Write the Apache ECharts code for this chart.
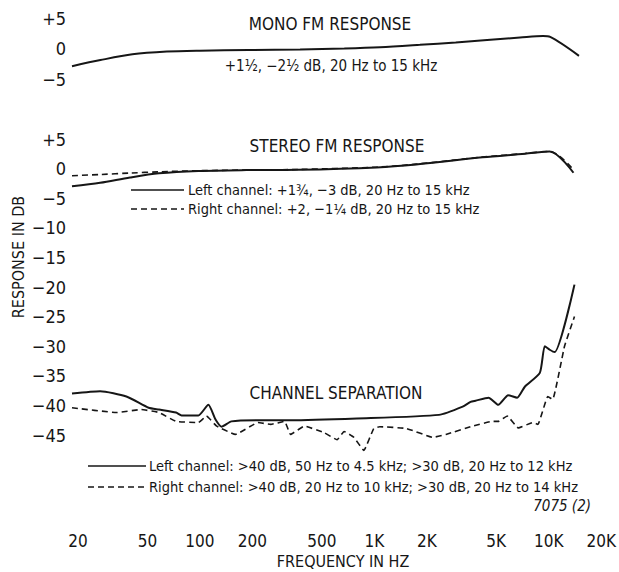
<!DOCTYPE html>
<html>
<head>
<meta charset="utf-8">
<style>
  html, body { margin: 0; padding: 0; background: #fff; }
  #chart { width: 619px; height: 572px; }
</style>
<script src="https://cdn.jsdelivr.net/npm/echarts@6/dist/echarts.min.js"></script>
</head>
<body>
<div id="chart"></div>
<script>
// Frequency axis ticks (Hz) and their printed labels
const FREQ_TICKS = [20, 50, 100, 200, 500, 1000, 2000, 5000, 10000, 20000];
const FREQ_TICK_LABELS = ['20', '50', '100', '200', '500', '1K', '2K', '5K', '10K', '20K'];

// Mono FM response
const monoFreq = [20, 29, 44, 69, 106, 200, 393, 700, 1117, 1880, 3000, 4520, 6950, 9380, 10300, 15000];
const monoDb   = [-2.9, -1.9, -0.95, -0.5, -0.35, -0.25, -0.15, 0.0, 0.2, 0.6, 1.0, 1.4, 1.8, 2.05, 1.9, -1.2];

// Stereo FM response
const stereoFreq    = [20, 29, 43, 63, 106, 200, 393, 1117, 1880, 4520, 7910, 10960, 15000];
const stereoLeftDb  = [-3.0, -2.4, -1.5, -0.8, -0.4, -0.25, -0.2, 0.2, 0.7, 1.9, 2.5, 2.9, -0.7];
const stereoRightDb = [-1.2, -1.0, -0.75, -0.55, -0.35, -0.25, -0.15, 0.25, 0.75, 1.95, 2.55, 2.9, -0.2];

// Channel separation, left channel
const sepLeftFreq = [20, 29, 41, 55, 63, 79, 85, 106, 121, 133, 144, 164, 233, 358, 860, 2540, 3475, 3855, 4120, 4890, 5560, 6340, 7130, 7910, 9620, 10270, 10960, 11700, 15200];
const sepLeftDb   = [-38.0, -37.6, -38.5, -40.4, -40.7, -41.2, -41.7, -41.7, -39.9, -42.4, -43.6, -42.7, -42.5, -42.5, -42.2, -41.6, -40.2, -39.4, -39.2, -38.7, -39.9, -38.3, -38.7, -36.8, -34.5, -30.0, -30.6, -31.0, -19.6];

// Channel separation, right channel
const sepRightFreq = [20, 36, 50, 63, 79, 106, 118, 135, 173, 233, 276, 331, 358, 430, 558, 662, 726, 826, 942, 1074, 1162, 1652, 2350, 2786, 3960, 5140, 5560, 6260, 7230, 8790, 9380, 10690, 11400, 13330, 15200];
const sepRightDb   = [-40.4, -41.2, -40.7, -41.2, -42.7, -42.9, -41.8, -43.5, -44.9, -42.9, -43.2, -42.7, -44.9, -43.5, -44.6, -45.8, -44.4, -45.4, -47.6, -43.9, -43.6, -43.9, -45.4, -44.9, -43.5, -42.7, -42.7, -41.8, -43.8, -42.9, -43.2, -38.5, -39.0, -30.0, -25.0];

const FONT = '"Liberation Sans Narrow", "DejaVu Sans Condensed", "Roboto Condensed", Roboto, sans-serif';
const INK = '#161616';

const toPoints = (freqs, dbs) => freqs.map((f, i) => [Math.log10(f), dbs[i]]);
const dbLabel = (v) => (v > 0 ? '+' + v : v < 0 ? '\u2212' + Math.abs(v) : '0');
const freqLabel = (v) => {
  const i = FREQ_TICKS.findIndex((t) => Math.abs(Math.log10(t) - v) < 1e-6);
  return i >= 0 ? FREQ_TICK_LABELS[i] : '';
};

const xBase = {
  type: 'value',
  min: Math.log10(FREQ_TICKS[0]),
  max: Math.log10(FREQ_TICKS[FREQ_TICKS.length - 1]),
  axisLine: { show: false },
  axisTick: { show: false },
  splitLine: { show: false }
};

const yLabelStyle = { color: INK, fontFamily: FONT, fontSize: 18, margin: 6 };

const chart = echarts.init(document.getElementById('chart'), null, { renderer: 'svg' });

const solid = { color: INK, width: 2, type: 'solid' };
const dashed = { color: INK, width: 1.6, type: [6, 4] };

// Plain text annotation helper
const label = (x, y, text, size, extra) => ({
  type: 'text', x, y,
  style: Object.assign({
    text, fill: INK, font: size + 'px ' + FONT, lineHeight: size,
    verticalAlign: 'middle'
  }, extra || {})
});

chart.setOption({
  animation: false,
  backgroundColor: '#fff',
  grid: [
    { left: 72, right: 18, top: 18, height: 61 },
    { left: 72, right: 18, top: 139, height: 296 }
  ],
  xAxis: [
    Object.assign({ gridIndex: 0, axisLabel: { show: false } }, xBase),
    Object.assign({
      gridIndex: 1,
      axisLabel: {
        customValues: FREQ_TICKS.map(Math.log10),
        formatter: freqLabel,
        color: INK, fontFamily: FONT, fontSize: 17, lineHeight: 17,
        margin: 97,
        padding: [0, 0, 0, 12]
      }
    }, xBase)
  ],
  yAxis: [
    {
      gridIndex: 0, type: 'value', min: -5, max: 5, interval: 5,
      axisLine: { show: false }, axisTick: { show: false }, splitLine: { show: false },
      axisLabel: Object.assign({ formatter: dbLabel }, yLabelStyle)
    },
    {
      gridIndex: 1, type: 'value', min: -45, max: 5, interval: 5,
      axisLine: { show: false }, axisTick: { show: false }, splitLine: { show: false },
      axisLabel: Object.assign({ formatter: dbLabel }, yLabelStyle)
    }
  ],
  series: [
    {
      name: 'Mono', type: 'line', xAxisIndex: 0, yAxisIndex: 0,
      data: toPoints(monoFreq, monoDb), showSymbol: false, smooth: 0.3,
      lineStyle: solid, clip: false
    },
    {
      name: 'Stereo left', type: 'line', xAxisIndex: 1, yAxisIndex: 1,
      data: toPoints(stereoFreq, stereoLeftDb), showSymbol: false, smooth: 0.3,
      lineStyle: solid, clip: false
    },
    {
      name: 'Stereo right', type: 'line', xAxisIndex: 1, yAxisIndex: 1,
      data: toPoints(stereoFreq, stereoRightDb), showSymbol: false, smooth: 0.3,
      lineStyle: dashed, clip: false
    },
    {
      name: 'Separation left', type: 'line', xAxisIndex: 1, yAxisIndex: 1,
      data: toPoints(sepLeftFreq, sepLeftDb), showSymbol: false, smooth: 0.2,
      lineStyle: solid, clip: false
    },
    {
      name: 'Separation right', type: 'line', xAxisIndex: 1, yAxisIndex: 1,
      data: toPoints(sepRightFreq, sepRightDb), showSymbol: false, smooth: 0.1,
      lineStyle: dashed, clip: false
    }
  ],
  graphic: [
    label(330, 24, 'MONO FM RESPONSE', 17, { align: 'center' }),
    label(331, 66, '+1\u00bd, \u22122\u00bd dB, 20 Hz to 15 kHz', 15, { align: 'center' }),
    label(337, 146, 'STEREO FM RESPONSE', 17, { align: 'center' }),

    { type: 'line', shape: { x1: 131, y1: 190, x2: 184, y2: 190 }, style: { stroke: INK, lineWidth: 1.6 } },
    label(188, 190, 'Left channel: +1\u00be, \u22123 dB, 20 Hz to 15 kHz', 14.5),
    { type: 'line', shape: { x1: 131, y1: 209, x2: 184, y2: 209 }, style: { stroke: INK, lineWidth: 1.4, lineDash: [6, 4] } },
    label(188, 209, 'Right channel: +2, \u22121\u00bc dB, 20 Hz to 15 kHz', 14.5),

    label(336, 393, 'CHANNEL SEPARATION', 17, { align: 'center' }),

    { type: 'line', shape: { x1: 88, y1: 466, x2: 146, y2: 466 }, style: { stroke: INK, lineWidth: 1.6 } },
    label(149, 466, 'Left channel: >40 dB, 50 Hz to 4.5 kHz; >30 dB, 20 Hz to 12 kHz', 14.5),
    { type: 'line', shape: { x1: 88, y1: 487, x2: 146, y2: 487 }, style: { stroke: INK, lineWidth: 1.4, lineDash: [6, 4] } },
    label(149, 487, 'Right channel: >40 dB, 20 Hz to 10 kHz; >30 dB, 20 Hz to 14 kHz', 14.5),

    label(591, 506, '7075 (2)', 15, { align: 'right', font: 'italic 15px ' + FONT }),
    label(343, 561, 'FREQUENCY IN HZ', 16, { align: 'center' }),
    Object.assign(label(18, 257, 'RESPONSE IN DB', 16, { align: 'center' }), { rotation: Math.PI / 2 })
  ]
});
</script>
</body>
</html>
